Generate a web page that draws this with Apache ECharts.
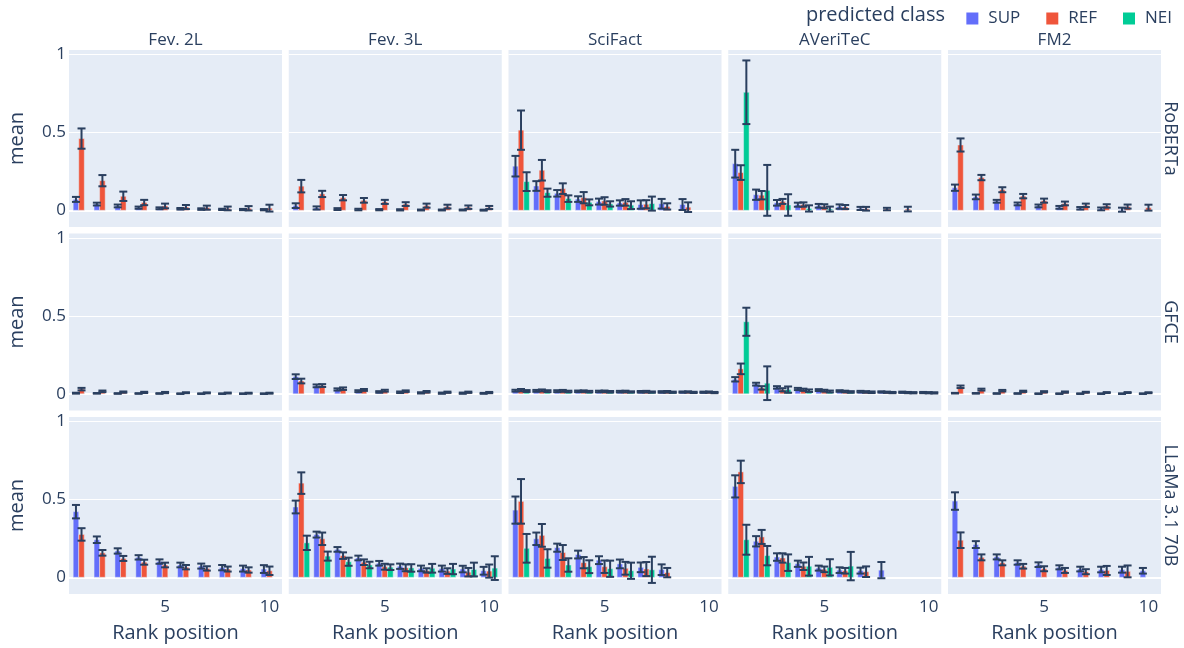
<!DOCTYPE html>
<html>
<head>
<meta charset="utf-8">
<script src="https://cdn.jsdelivr.net/npm/echarts@6/dist/echarts.min.js"></script>
<style>
  html, body { margin: 0; padding: 0; background: #ffffff; }
  #chart { width: 1184px; height: 648px; }
</style>
</head>
<body>
<div id="chart"></div>
<script>
// ---- facets and categories ----
const RANKS = [1, 2, 3, 4, 5, 6, 7, 8, 9, 10];
const DATASETS = ['Fev. 2L', 'Fev. 3L', 'SciFact', 'AVeriTeC', 'FM2'];
const MODELS = ['RoBERTa', 'GFCE', 'LLaMa 3.1 70B'];
const CLASSES = ['SUP', 'REF', 'NEI'];
const Y_TICKS = [0, 0.5, 1];
const X_TICKS = [5, 10];

// ---- RoBERTa: mean share per rank and error half-width ----
const rob_fev2l_sup = [0.07, 0.04, 0.028, 0.017, 0.013, 0.01, 0.008, 0.006, 0.005, 0.004];
const rob_fev2l_sup_err = [0.016, 0.009, 0.009, 0.007, 0.006, 0.005, 0.005, 0.004, 0.004, 0.004];
const rob_fev2l_ref = [0.46, 0.19, 0.09, 0.05, 0.028, 0.021, 0.017, 0.012, 0.013, 0.014];
const rob_fev2l_ref_err = [0.065, 0.036, 0.03, 0.017, 0.015, 0.013, 0.013, 0.012, 0.014, 0.022];

const rob_fev3l_sup = [0.03, 0.015, 0.008, 0.005, 0.004, 0.003, 0.002, 0.002, 0.002, 0.001];
const rob_fev3l_sup_err = [0.015, 0.01, 0.006, 0.005, 0.004, 0.004, 0.003, 0.003, 0.003, 0.003];
const rob_fev3l_ref = [0.155, 0.105, 0.081, 0.064, 0.054, 0.04, 0.03, 0.024, 0.02, 0.018];
const rob_fev3l_ref_err = [0.04, 0.02, 0.017, 0.015, 0.013, 0.012, 0.013, 0.012, 0.011, 0.01];

const rob_scifact_sup = [0.283, 0.156, 0.109, 0.072, 0.056, 0.047, 0.037, 0.042, 0.037, null];
const rob_scifact_sup_err = [0.066, 0.031, 0.021, 0.018, 0.019, 0.017, 0.027, 0.031, 0.035, null];
const rob_scifact_ref = [0.514, 0.257, 0.139, 0.081, 0.06, 0.051, 0.039, 0.025, 0.02, null];
const rob_scifact_ref_err = [0.126, 0.066, 0.034, 0.036, 0.024, 0.021, 0.026, 0.02, 0.031, null];
const rob_scifact_nei = [0.184, 0.113, 0.075, 0.051, 0.041, 0.033, 0.043, null, null, null];
const rob_scifact_nei_err = [0.06, 0.026, 0.021, 0.019, 0.017, 0.025, 0.045, null, null, null];

const rob_averitec_sup = [0.299, 0.1, 0.048, 0.036, 0.029, 0.024, 0.012, null, null, null];
const rob_averitec_sup_err = [0.089, 0.033, 0.018, 0.013, 0.012, 0.014, 0.01, null, null, null];
const rob_averitec_ref = [0.242, 0.097, 0.057, 0.037, 0.026, 0.021, 0.01, 0.008, 0.008, null];
const rob_averitec_ref_err = [0.047, 0.027, 0.016, 0.014, 0.013, 0.013, 0.012, 0.008, 0.015, null];
const rob_averitec_nei = [0.757, 0.128, 0.034, 0.012, 0.008, null, null, null, null, null];
const rob_averitec_nei_err = [0.204, 0.163, 0.069, 0.02, 0.016, null, null, null, null, null];

const rob_fm2_sup = [0.145, 0.086, 0.058, 0.041, 0.028, 0.019, 0.013, 0.009, 0.004, null];
const rob_fm2_sup_err = [0.02, 0.015, 0.009, 0.009, 0.009, 0.009, 0.008, 0.009, 0.013, null];
const rob_fm2_ref = [0.419, 0.21, 0.132, 0.091, 0.062, 0.044, 0.032, 0.028, 0.024, 0.017];
const rob_fm2_ref_err = [0.042, 0.017, 0.016, 0.014, 0.013, 0.012, 0.011, 0.011, 0.013, 0.019];

// ---- GFCE ----
const gfce_fev2l_sup = [0.004, 0.003, 0.002, 0.002, 0.002, 0.001, 0.001, 0.001, 0.001, 0.001];
const gfce_fev2l_sup_err = [0.003, 0.002, 0.002, 0.002, 0.002, 0.002, 0.002, 0.002, 0.002, 0.002];
const gfce_fev2l_ref = [0.03, 0.016, 0.011, 0.009, 0.008, 0.007, 0.006, 0.005, 0.004, 0.004];
const gfce_fev2l_ref_err = [0.008, 0.005, 0.004, 0.004, 0.004, 0.003, 0.003, 0.003, 0.003, 0.003];

const gfce_fev3l_sup = [0.11, 0.051, 0.028, 0.017, 0.012, 0.01, 0.006, 0.004, 0.004, 0.003];
const gfce_fev3l_sup_err = [0.015, 0.009, 0.007, 0.006, 0.005, 0.005, 0.004, 0.004, 0.004, 0.003];
const gfce_fev3l_ref = [0.082, 0.053, 0.033, 0.025, 0.02, 0.017, 0.013, 0.01, 0.01, 0.008];
const gfce_fev3l_ref_err = [0.015, 0.009, 0.008, 0.006, 0.006, 0.005, 0.005, 0.004, 0.004, 0.004];

const gfce_scifact_sup = [0.02, 0.019, 0.017, 0.016, 0.015, 0.014, 0.013, 0.012, 0.011, 0.01];
const gfce_scifact_sup_err = [0.006, 0.006, 0.006, 0.005, 0.005, 0.005, 0.005, 0.005, 0.004, 0.004];
const gfce_scifact_ref = [0.024, 0.022, 0.019, 0.017, 0.016, 0.015, 0.014, 0.013, 0.012, 0.011];
const gfce_scifact_ref_err = [0.007, 0.006, 0.006, 0.005, 0.005, 0.005, 0.005, 0.005, 0.004, 0.004];
const gfce_scifact_nei = [0.018, 0.017, 0.015, 0.014, 0.013, 0.012, 0.011, 0.01, 0.009, 0.008];
const gfce_scifact_nei_err = [0.006, 0.006, 0.005, 0.005, 0.005, 0.004, 0.004, 0.004, 0.004, 0.004];

const gfce_averitec_sup = [0.093, 0.062, 0.041, 0.031, 0.024, 0.018, 0.014, 0.012, 0.01, 0.008];
const gfce_averitec_sup_err = [0.014, 0.009, 0.008, 0.007, 0.006, 0.005, 0.005, 0.004, 0.004, 0.004];
const gfce_averitec_ref = [0.16, 0.038, 0.026, 0.026, 0.02, 0.015, 0.012, 0.01, 0.008, 0.007];
const gfce_averitec_ref_err = [0.034, 0.011, 0.01, 0.007, 0.006, 0.005, 0.005, 0.004, 0.004, 0.004];
const gfce_averitec_nei = [0.462, 0.068, 0.027, 0.02, 0.015, 0.012, 0.01, 0.008, 0.007, 0.006];
const gfce_averitec_nei_err = [0.09, 0.108, 0.02, 0.008, 0.006, 0.005, 0.005, 0.004, 0.004, 0.004];

const gfce_fm2_sup = [0.004, 0.003, 0.002, 0.002, 0.001, 0.001, 0.001, 0.001, 0.001, 0.001];
const gfce_fm2_sup_err = [0.002, 0.002, 0.002, 0.002, 0.002, 0.002, 0.002, 0.002, 0.002, 0.002];
const gfce_fm2_ref = [0.045, 0.027, 0.02, 0.016, 0.013, 0.011, 0.01, 0.008, 0.008, 0.007];
const gfce_fm2_ref_err = [0.008, 0.006, 0.005, 0.004, 0.004, 0.004, 0.003, 0.003, 0.003, 0.003];

// ---- LLaMa 3.1 70B ----
const llama_fev2l_sup = [0.421, 0.241, 0.169, 0.128, 0.101, 0.079, 0.072, 0.062, 0.056, 0.053];
const llama_fev2l_sup_err = [0.043, 0.021, 0.017, 0.014, 0.014, 0.015, 0.016, 0.017, 0.019, 0.025];
const llama_fev2l_ref = [0.275, 0.157, 0.121, 0.097, 0.079, 0.065, 0.057, 0.053, 0.047, 0.042];
const llama_fev2l_ref_err = [0.04, 0.018, 0.016, 0.016, 0.015, 0.014, 0.014, 0.016, 0.017, 0.027];

const llama_fev3l_sup = [0.451, 0.274, 0.179, 0.124, 0.09, 0.071, 0.057, 0.056, 0.053, 0.042];
const llama_fev3l_sup_err = [0.041, 0.019, 0.015, 0.015, 0.015, 0.017, 0.018, 0.019, 0.021, 0.025];
const llama_fev3l_ref = [0.604, 0.247, 0.139, 0.097, 0.068, 0.061, 0.044, 0.04, 0.033, 0.04];
const llama_fev3l_ref_err = [0.069, 0.04, 0.021, 0.018, 0.019, 0.022, 0.014, 0.018, 0.027, 0.042];
const llama_fev3l_nei = [0.221, 0.136, 0.1, 0.079, 0.065, 0.06, 0.058, 0.053, 0.05, 0.059];
const llama_fev3l_nei_err = [0.046, 0.029, 0.026, 0.021, 0.018, 0.024, 0.028, 0.033, 0.044, 0.076];

const llama_scifact_sup = [0.431, 0.247, 0.19, 0.146, 0.11, 0.086, 0.064, 0.049, null, null];
const llama_scifact_sup_err = [0.087, 0.04, 0.026, 0.025, 0.025, 0.028, 0.031, 0.034, null, null];
const llama_scifact_ref = [0.487, 0.269, 0.159, 0.094, 0.068, 0.058, 0.053, 0.03, null, null];
const llama_scifact_ref_err = [0.143, 0.073, 0.048, 0.036, 0.04, 0.041, 0.045, 0.03, null, null];
const llama_scifact_nei = [0.186, 0.121, 0.079, 0.068, 0.055, 0.042, 0.048, null, null, null];
const llama_scifact_nei_err = [0.092, 0.059, 0.043, 0.041, 0.052, 0.052, 0.084, null, null, null];

const llama_averitec_sup = [0.583, 0.231, 0.13, 0.087, 0.059, 0.046, 0.043, 0.046, null, null];
const llama_averitec_sup_err = [0.071, 0.033, 0.024, 0.02, 0.016, 0.018, 0.019, 0.052, null, null];
const llama_averitec_ref = [0.676, 0.259, 0.124, 0.071, 0.051, 0.042, 0.036, null, null, null];
const llama_averitec_ref_err = [0.072, 0.045, 0.03, 0.024, 0.018, 0.018, 0.034, null, null, null];
const llama_averitec_nei = [0.241, 0.139, 0.094, 0.071, 0.064, 0.072, null, null, null, null];
const llama_averitec_nei_err = [0.096, 0.062, 0.053, 0.06, 0.052, 0.091, null, null, null, null];

const llama_fm2_sup = [0.489, 0.21, 0.131, 0.095, 0.081, 0.064, 0.053, 0.05, 0.049, 0.042];
const llama_fm2_sup_err = [0.056, 0.022, 0.016, 0.014, 0.015, 0.013, 0.015, 0.018, 0.019, 0.018];
const llama_fm2_ref = [0.238, 0.128, 0.093, 0.071, 0.055, 0.044, 0.036, 0.044, 0.038, null];
const llama_fm2_ref_err = [0.05, 0.019, 0.016, 0.015, 0.016, 0.016, 0.016, 0.029, 0.038, null];

// rows = models, columns = datasets, each cell = [SUP, REF, NEI] as [mean, err]
const NONE = [null, null];
const TABLE = [
  [
    [[rob_fev2l_sup, rob_fev2l_sup_err], [rob_fev2l_ref, rob_fev2l_ref_err], NONE],
    [[rob_fev3l_sup, rob_fev3l_sup_err], [rob_fev3l_ref, rob_fev3l_ref_err], NONE],
    [[rob_scifact_sup, rob_scifact_sup_err], [rob_scifact_ref, rob_scifact_ref_err], [rob_scifact_nei, rob_scifact_nei_err]],
    [[rob_averitec_sup, rob_averitec_sup_err], [rob_averitec_ref, rob_averitec_ref_err], [rob_averitec_nei, rob_averitec_nei_err]],
    [[rob_fm2_sup, rob_fm2_sup_err], [rob_fm2_ref, rob_fm2_ref_err], NONE]
  ],
  [
    [[gfce_fev2l_sup, gfce_fev2l_sup_err], [gfce_fev2l_ref, gfce_fev2l_ref_err], NONE],
    [[gfce_fev3l_sup, gfce_fev3l_sup_err], [gfce_fev3l_ref, gfce_fev3l_ref_err], NONE],
    [[gfce_scifact_sup, gfce_scifact_sup_err], [gfce_scifact_ref, gfce_scifact_ref_err], [gfce_scifact_nei, gfce_scifact_nei_err]],
    [[gfce_averitec_sup, gfce_averitec_sup_err], [gfce_averitec_ref, gfce_averitec_ref_err], [gfce_averitec_nei, gfce_averitec_nei_err]],
    [[gfce_fm2_sup, gfce_fm2_sup_err], [gfce_fm2_ref, gfce_fm2_ref_err], NONE]
  ],
  [
    [[llama_fev2l_sup, llama_fev2l_sup_err], [llama_fev2l_ref, llama_fev2l_ref_err], NONE],
    [[llama_fev3l_sup, llama_fev3l_sup_err], [llama_fev3l_ref, llama_fev3l_ref_err], [llama_fev3l_nei, llama_fev3l_nei_err]],
    [[llama_scifact_sup, llama_scifact_sup_err], [llama_scifact_ref, llama_scifact_ref_err], [llama_scifact_nei, llama_scifact_nei_err]],
    [[llama_averitec_sup, llama_averitec_sup_err], [llama_averitec_ref, llama_averitec_ref_err], [llama_averitec_nei, llama_averitec_nei_err]],
    [[llama_fm2_sup, llama_fm2_sup_err], [llama_fm2_ref, llama_fm2_ref_err], NONE]
  ]
];

// ---- styling / layout ----
const COLORS = ['#636EFA', '#EF553B', '#00CC96'];
const TEXT = '#2a3f5f';
const PLOT_BG = '#E5ECF6';
const FONT = '"Open Sans", "DejaVu Sans", sans-serif';
const GRID_LEFT = 69, COL_STEP = 219.75, GRID_W = 213;
const GRID_TOP = 50, ROW_STEP = 183.5, GRID_H = 177;
const X_MIN = 0.4, X_MAX = 10.6;
const Y_MIN = -0.107, Y_MAX = 1.028;
const SLOT = 0.8 / 3;         // width of one bar inside a rank group
const CAP = 4;                // half width of the error-bar caps (px)

function barRenderer(slot, color) {
  return function (params, api) {
    const x = api.value(0) + (slot - 1) * SLOT;
    const top = api.coord([x, api.value(1)]);
    const base = api.coord([x, 0]);
    const w = api.size([SLOT, 0])[0];
    return {
      type: 'rect',
      shape: { x: top[0] - w / 2, y: Math.min(top[1], base[1]), width: w, height: Math.abs(base[1] - top[1]) },
      style: { fill: color, stroke: PLOT_BG, lineWidth: 0.5 }
    };
  };
}

function errRenderer(slot) {
  return function (params, api) {
    const x = api.value(0) + (slot - 1) * SLOT;
    const m = api.value(1), e = api.value(2);
    const hi = api.coord([x, m + e]);
    const lo = api.coord([x, m - e]);
    const style = { stroke: TEXT, lineWidth: 2 };
    return {
      type: 'group',
      children: [
        { type: 'line', shape: { x1: hi[0], y1: hi[1], x2: lo[0], y2: lo[1] }, style },
        { type: 'line', shape: { x1: hi[0] - CAP, y1: hi[1], x2: hi[0] + CAP, y2: hi[1] }, style },
        { type: 'line', shape: { x1: lo[0] - CAP, y1: lo[1], x2: lo[0] + CAP, y2: lo[1] }, style }
      ]
    };
  };
}

const grids = [], xAxes = [], yAxes = [], series = [];
const graphics = [];

MODELS.forEach((model, r) => {
  DATASETS.forEach((ds, c) => {
    const idx = r * DATASETS.length + c;
    const left = GRID_LEFT + c * COL_STEP;
    const top = GRID_TOP + r * ROW_STEP;
    const bottomRow = r === MODELS.length - 1;
    grids.push({
      left, top, width: GRID_W, height: GRID_H,
      show: true, backgroundColor: PLOT_BG, borderWidth: 0
    });
    // zero line (drawn under the bars)
    xAxes.push({
      gridIndex: idx, type: 'value', min: X_MIN, max: X_MAX, position: 'top',
      axisLine: { show: true, onZero: true, lineStyle: { color: '#ffffff', width: 2 } },
      axisTick: { show: false }, axisLabel: { show: false }, splitLine: { show: false }
    });
    // labelled rank axis
    xAxes.push({
      gridIndex: idx, type: 'value', min: X_MIN, max: X_MAX, position: 'bottom',
      axisLine: { show: false, onZero: false },
      axisTick: { show: false, customValues: X_TICKS },
      splitLine: { show: false },
      axisLabel: {
        show: bottomRow, customValues: X_TICKS,
        margin: 5, color: TEXT, fontFamily: FONT, fontSize: 17
      },
      name: bottomRow ? 'Rank position' : '',
      nameLocation: 'middle', nameGap: 29,
      nameTextStyle: { color: TEXT, fontFamily: FONT, fontSize: 20 }
    });
    yAxes.push({
      gridIndex: idx, type: 'value', min: Y_MIN, max: Y_MAX,
      axisLine: { show: false },
      axisTick: { show: false, customValues: Y_TICKS },
      splitLine: { show: true, lineStyle: { color: '#ffffff', width: 1 } },
      axisLabel: {
        show: c === 0, customValues: Y_TICKS,
        margin: 3, color: TEXT, fontFamily: FONT, fontSize: 17
      },
      name: c === 0 ? 'mean' : '',
      nameLocation: 'middle', nameGap: 42,
      nameTextStyle: { color: TEXT, fontFamily: FONT, fontSize: 20 }
    });

    CLASSES.forEach((cls, k) => {
      const [means, errs] = TABLE[r][c][k];
      if (!means) return;
      const data = RANKS.map((rank, i) => [rank, means[i], errs[i]]).filter(d => d[1] != null);
      series.push({
        type: 'custom', name: cls, xAxisIndex: 2 * idx, yAxisIndex: idx,
        itemStyle: { color: COLORS[k] }, encode: { x: 0, y: 1 },
        renderItem: barRenderer(k, COLORS[k]), data, z: 2, silent: true
      });
      series.push({
        type: 'custom', name: cls + ' error', xAxisIndex: 2 * idx, yAxisIndex: idx,
        encode: { x: 0, y: 1 }, renderItem: errRenderer(k), data, z: 3, silent: true
      });
    });

    // facet title above each column
    if (r === 0) {
      graphics.push({
        type: 'text', x: left + GRID_W / 2, y: 40,
        style: { text: ds, fill: TEXT, font: '17px ' + FONT, align: 'center', verticalAlign: 'middle' }
      });
    }
  });
  // facet label on the right of each row
  graphics.push({
    type: 'text', x: 1170, y: GRID_TOP + r * ROW_STEP + GRID_H / 2, rotation: -Math.PI / 2,
    style: { text: model, fill: TEXT, font: '18px ' + FONT, align: 'center', verticalAlign: 'middle' }
  });
});

const chart = echarts.init(document.getElementById('chart'), null, { renderer: 'canvas' });
chart.setOption({
  animation: false,
  backgroundColor: '#ffffff',
  title: {
    text: 'predicted class', right: 234, top: 0,
    textStyle: { color: TEXT, fontFamily: FONT, fontSize: 20, fontWeight: 'normal' }
  },
  legend: {
    data: CLASSES, right: 7, top: 5, itemWidth: 12, itemHeight: 12, itemGap: 26,
    icon: 'rect',
    textStyle: { color: TEXT, fontFamily: FONT, fontSize: 17, padding: [0, 0, 0, 5] }
  },
  grid: grids,
  xAxis: xAxes,
  yAxis: yAxes,
  series,
  graphic: graphics
});
</script>
</body>
</html>
